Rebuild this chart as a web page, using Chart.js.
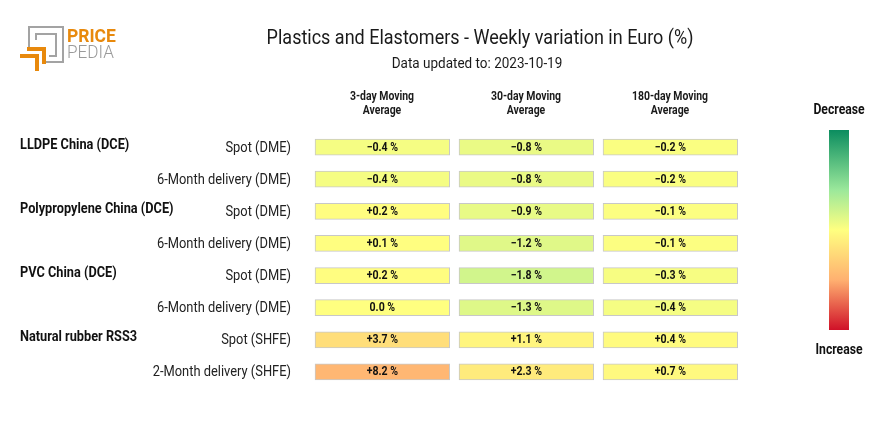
<!DOCTYPE html>
<html>
<head>
<meta charset="utf-8">
<script src="https://cdn.jsdelivr.net/npm/chart.js@4.4.0/dist/chart.umd.min.js"></script>
<style>
  html, body { margin: 0; padding: 0; background: #fff; }
  #wrap { width: 880px; height: 430px; }
</style>
</head>
<body>
<div id="wrap"><canvas id="chart" width="880" height="430"></canvas></div>
<script>
const groups = ["LLDPE China (DCE)", "", "Polypropylene China (DCE)", "", "PVC China (DCE)", "", "Natural rubber RSS3", ""];
const contracts = ["Spot (DME)", "6-Month delivery (DME)", "Spot (DME)", "6-Month delivery (DME)",
  "Spot (DME)", "6-Month delivery (DME)", "Spot (SHFE)", "2-Month delivery (SHFE)"];
const columns = [["3-day Moving", "Average"], ["30-day Moving", "Average"], ["180-day Moving", "Average"]];
const ma3 = [-0.4, -0.4, 0.2, 0.1, 0.2, 0.0, 3.7, 8.2];
const ma30 = [-0.8, -0.8, -0.9, -1.2, -1.8, -1.3, 1.1, 2.3];
const ma180 = [-0.2, -0.2, -0.1, -0.1, -0.3, -0.4, 0.4, 0.7];

// colour scale: value -> colour (green = decrease, red = increase)
const colorStops = [[-10, "#0b8d5f"], [-4, "#98e89a"], [0, "#ffff80"], [8.5, "#ffb473"], [20, "#d01128"]];

function hex(c) { return [1, 3, 5].map(i => parseInt(c.substr(i, 2), 16)); }
function colorFor(v) {
  if (v <= colorStops[0][0]) return colorStops[0][1];
  for (let i = 1; i < colorStops.length; i++) {
    const [v1, c1] = colorStops[i];
    if (v <= v1) {
      const [v0, c0] = colorStops[i - 1];
      const t = (v - v0) / (v1 - v0);
      const a = hex(c0), b = hex(c1);
      return "rgb(" + a.map((x, k) => Math.round(x + (b[k] - x) * t)).join(",") + ")";
    }
  }
  return colorStops[colorStops.length - 1][1];
}
function fmt(v) {
  if (v > 0) return "+" + v.toFixed(1) + " %";
  if (v < 0) return "\u2212" + Math.abs(v).toFixed(1) + " %";
  return "0.0 %";
}

function txt(ctx, s, x, y, font, color, align, sx) {
  ctx.save();
  ctx.font = font;
  ctx.fillStyle = color;
  ctx.textAlign = align;
  ctx.textBaseline = "middle";
  ctx.translate(x, y);
  ctx.scale(sx, 1);
  ctx.fillText(s, 0, 0);
  ctx.restore();
}

function drawLogo(ctx) {
  ctx.save();
  ctx.lineCap = "butt";
  ctx.strokeStyle = "#a3a3a3";
  ctx.lineWidth = 2;
  ctx.beginPath();
  ctx.moveTo(29, 47); ctx.lineTo(29, 27); ctx.lineTo(63, 27); ctx.lineTo(63, 62); ctx.lineTo(46, 62);
  ctx.stroke();
  ctx.beginPath();
  ctx.moveTo(36, 40); ctx.lineTo(36, 34); ctx.lineTo(56, 34); ctx.lineTo(56, 56); ctx.lineTo(49, 56);
  ctx.stroke();
  ctx.strokeStyle = "#e8890c";
  ctx.lineWidth = 4;
  ctx.beginPath();
  ctx.moveTo(27, 49); ctx.lineTo(44, 49); ctx.lineTo(44, 64);
  ctx.stroke();
  ctx.beginPath();
  ctx.moveTo(20, 56); ctx.lineTo(37, 56); ctx.lineTo(37, 71);
  ctx.stroke();
  ctx.restore();
  txt(ctx, "PRICE", 67, 37, "bold 19px Roboto", "#e8890c", "left", 0.92);
  txt(ctx, "PEDIA", 67, 53, "300 19px Roboto", "#9a9a9a", "left", 0.9);
}

const tablePlugin = {
  id: "tableText",
  afterDatasetsDraw(chart) {
    const ctx = chart.ctx;
    chart.data.datasets.forEach((ds, i) => {
      chart.getDatasetMeta(i).data.forEach((el, j) => {
        txt(ctx, fmt(ds.values[j]), (el.x + el.base) / 2, el.y + 0.5, "bold 12px Roboto", "#111", "center", 0.88);
      });
    });
  },
  afterDraw(chart) {
    const ctx = chart.ctx;
    const xs = chart.scales.x, ys = chart.scales.y;
    drawLogo(ctx);
    txt(ctx, "Plastics and Elastomers - Weekly variation in Euro (%)", 480, 39, "20px Roboto", "#1a1a1a", "center", 0.9);
    txt(ctx, "Data updated to: 2023-10-19", 477, 64, "15px Roboto", "#1a1a1a", "center", 0.9);
    columns.forEach((lines, c) => {
      const cx = xs.getPixelForValue(c + 0.5);
      lines.forEach((l, k) => txt(ctx, l, cx, 97 + k * 14, "bold 12px Roboto", "#1a1a1a", "center", 0.87));
    });
    contracts.forEach((lab, r) => {
      const y = ys.getPixelForValue(r);
      txt(ctx, lab, 291, y + 1, "14px Roboto", "#222", "right", 0.92);
      if (groups[r]) txt(ctx, groups[r], 20, y - 2, "bold 14px Roboto", "#111", "left", 0.91);
    });
    // colour legend
    const g = ctx.createLinearGradient(0, 130, 0, 330);
    g.addColorStop(0, "#0b8d5f");
    g.addColorStop(0.3, "#9be89b");
    g.addColorStop(0.5, "#ffff80");
    g.addColorStop(0.75, "#ffb070");
    g.addColorStop(1, "#d01128");
    ctx.fillStyle = g;
    ctx.fillRect(829, 130, 20, 200);
    txt(ctx, "Decrease", 839, 110, "bold 14px Roboto", "#111", "center", 0.87);
    txt(ctx, "Increase", 839, 350, "bold 14px Roboto", "#111", "center", 0.87);
  }
};

const series = [ma3, ma30, ma180];
const datasets = series.map((vals, c) => ({
  label: columns[c].join(" "),
  values: vals,
  data: vals.map(() => [c + 0.035, c + 0.97]),
  backgroundColor: vals.map(colorFor),
  borderColor: "#c8c8c8",
  borderWidth: 1,
  borderSkipped: false,
  barThickness: 16,
  grouped: false
}));

new Chart(document.getElementById("chart"), {
  type: "bar",
  data: { labels: contracts, datasets },
  options: {
    indexAxis: "y",
    responsive: false,
    animation: false,
    layout: { padding: { left: 310, right: 138, top: 131, bottom: 42 } },
    plugins: { legend: { display: false }, tooltip: { enabled: false } },
    scales: {
      x: { type: "linear", min: 0, max: 3, display: false },
      y: { display: false }
    }
  },
  plugins: [tablePlugin]
});
</script>
</body>
</html>
